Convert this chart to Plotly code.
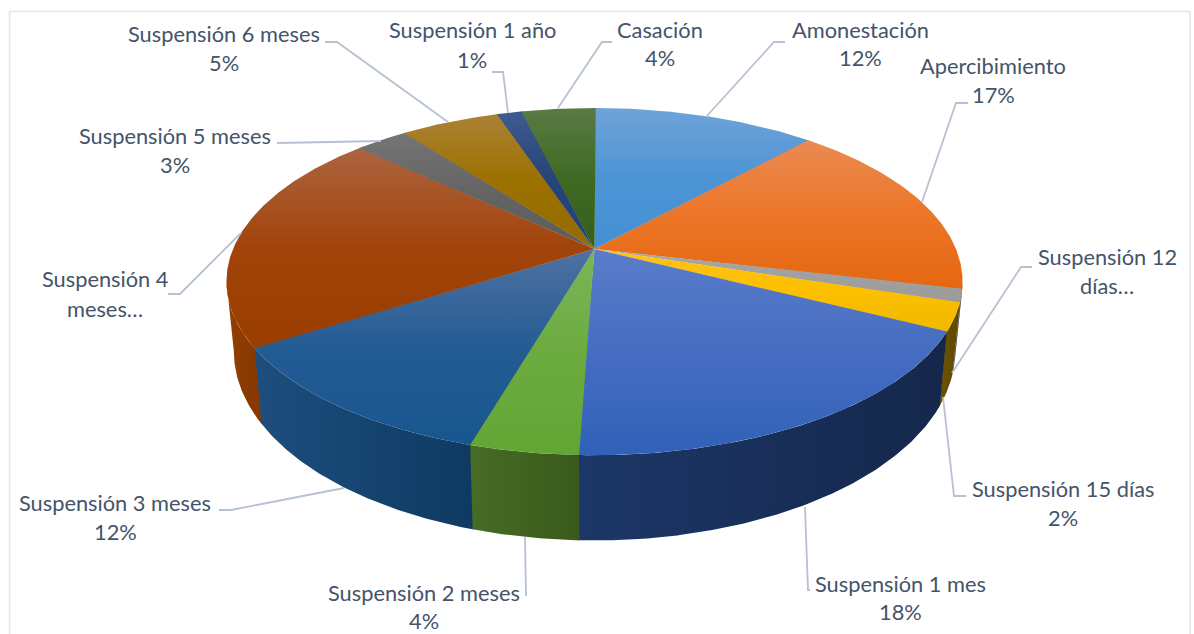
import math
import plotly.graph_objects as go

# ---- data ----
categories = ["Amonestación", "Apercibimiento", "Suspensión 12 días", "Suspensión 15 días",
              "Suspensión 1 mes", "Suspensión 2 meses", "Suspensión 3 meses", "Suspensión 4 meses",
              "Suspensión 5 meses", "Suspensión 6 meses", "Suspensión 1 año", "Casación"]
values = [11.75, 16.9, 1.2, 2.6, 18.1, 4.0, 11.5, 20.8, 2.8, 5.2, 1.3, 3.85]
pct_labels = ["12%", "17%", "", "2%", "18%", "4%", "12%", "", "3%", "5%", "1%", "4%"]

# ---- styles ----
top_light = ["#70a3d8", "#ea8a52", "#a8a8a8", "#ffc21a", "#5a7cca", "#7cb558", "#4f72a2", "#ac6440",
             "#757575", "#ab8236", "#3f5a92", "#5a7a45"]
top_mid = ["#4c94d5", "#ec7628", "#a0a0a0", "#fcc000", "#466dc2", "#6cab40", "#245c94", "#a2440a",
           "#646464", "#9c7100", "#264478", "#3f6a24"]
top_dark = ["#4490d4", "#e5660f", "#9b9b9b", "#f0b800", "#3062b8", "#62a634", "#18568f", "#993d00",
            "#5c5c5c", "#946b00", "#1f4080", "#335f1d"]
wall_a = ["#2a5d8c", "#8a4a1c", "#5a5a5a", "#6d5400", "#1c3768", "#466c26", "#1d4e7e", "#933f00",
          "#444444", "#5d4500", "#16294e", "#2a401a"]
wall_b = ["#2a5d8c", "#8a4a1c", "#5a5a5a", "#5f4800", "#15274b", "#3a5a1b", "#0e3a62", "#853700",
          "#444444", "#5d4500", "#16294e", "#2a401a"]
TEXT = "#44546a"
LEAD = "#b6c2d2"
FONT = "Lato"

# ---- projection of the tilted disc ----
CX, CY, R, A, K = 594.5, 249.0, 361.5, 167.5, 0.1876
CY2, XS, YS = 315.7, 0.98, 1.09
EPS = 0.004


def top(t):
    u, v = math.sin(t), math.cos(t)
    d = 1 + K * v
    return CX + R * u / d, CY - A * v / d


def bottom(t):
    x, y = top(t)
    return CX + (x - CX) * XS, CY2 + (y - CY) * YS


def arc(f, a, b):
    n = max(2, int(abs(b - a) / 0.01))
    pts = [f(a + (b - a) * i / n) for i in range(n + 1)]
    return [p[0] for p in pts], [p[1] for p in pts]


total = sum(values)
edges = [0.0]
for val in values:
    edges.append(edges[-1] + val / total * 2 * math.pi)

WALL_A = math.radians(100.8)
WALL_B = math.radians(259.2)

fig = go.Figure()

# side walls
for i, c in enumerate(categories):
    a, b = max(edges[i], WALL_A), min(edges[i + 1] + EPS, WALL_B)
    if b <= a:
        continue
    xt, yt = arc(top, a, b)
    xb, yb = arc(bottom, a, b)
    xs = xt + xb[::-1] + [xt[0]]
    ys = yt + yb[::-1] + [yt[0]]
    fig.add_trace(go.Scatter(
        x=xs, y=ys, mode="lines", fill="toself", line=dict(width=0), hoverinfo="skip", showlegend=False,
        fillgradient=dict(type="horizontal", start=min(xs), stop=max(xs),
                          colorscale=[[0, wall_a[i]], [1, wall_b[i]]])))

# top faces
for i, c in enumerate(categories):
    xa, ya = arc(top, edges[i], edges[i + 1] + EPS)
    xs = [CX] + xa + [CX]
    ys = [CY] + ya + [CY]
    fig.add_trace(go.Scatter(
        x=xs, y=ys, mode="lines", fill="toself", line=dict(width=0), name=c, showlegend=False,
        hovertemplate=c + "<extra></extra>",
        fillgradient=dict(type="vertical", start=min(ys), stop=max(ys),
                          colorscale=[[0, top_light[i]], [0.5, top_mid[i]], [1, top_dark[i]]])))

# leader lines
leaders = [
    [(785, 42), (774, 42), (706, 117)],
    [(968, 103), (956, 103), (922, 202)],
    [(1032, 267), (1021, 267), (952, 373)],
    [(966, 496), (954, 496), (943, 397)],
    [(810, 590), (808, 590), (805, 507)],
    [(526, 596), (525, 537)],
    [(219, 510), (231, 510), (344, 488)],
    [(168, 294), (180, 294), (241, 233)],
    [(277, 143), (381, 141)],
    [(325, 42), (337, 42), (448, 122)],
    [(492, 72), (503, 72), (508, 113)],
    [(612, 42), (602, 42), (558, 108)],
]
lx, ly = [], []
for seg in leaders:
    lx += [p[0] for p in seg] + [None]
    ly += [p[1] for p in seg] + [None]
fig.add_trace(go.Scatter(x=lx, y=ly, mode="lines", line=dict(color=LEAD, width=1.8),
                         hoverinfo="skip", showlegend=False))

# labels: first line / second line / centre x / first y / second y
label_first = ["Amonestación", "Apercibimiento", "Suspensión 12", "Suspensión 15 días", "Suspensión 1 mes",
               "Suspensión 2 meses", "Suspensión 3 meses", "Suspensión 4", "Suspensión 5 meses",
               "Suspensión 6 meses", "Suspensión 1 año", "Casación"]
label_second = [pct_labels[0], pct_labels[1], "días…", pct_labels[3], pct_labels[4], pct_labels[5],
                pct_labels[6], "meses…", pct_labels[8], pct_labels[9], pct_labels[10], pct_labels[11]]
label_pos = [(860, 29, 57), (993, 65, 94), (1107, 256, 285), (1063, 488, 517), (900, 583, 611),
             (424, 592, 620), (115, 502, 531), (105, 278, 308), (175, 135, 164), (224, 33, 62),
             (472, 29, 59), (660, 29, 57)]
for first, second, (x, y1, y2) in zip(label_first, label_second, label_pos):
    for txt, y in ((first, y1), (second, y2)):
        fig.add_annotation(x=x, y=y, text=txt, showarrow=False, xanchor="center", yanchor="middle",
                           font=dict(family=FONT, size=21.8, color=TEXT))

fig.add_shape(type="rect", x0=9.5, y0=11.5, x1=1190, y1=640,
              line=dict(color="#e2e7ee", width=1.5), fillcolor="rgba(0,0,0,0)", layer="below")

fig.update_layout(
    width=1194, height=634, margin=dict(l=0, r=0, t=0, b=0),
    paper_bgcolor="white", plot_bgcolor="white", showlegend=False,
    xaxis=dict(range=[0, 1194], visible=False, fixedrange=True),
    yaxis=dict(range=[634, 0], visible=False, fixedrange=True),
)
fig.write_html("out.html", post_script="document.body.style.margin='0';",
               config={"displayModeBar": False})
